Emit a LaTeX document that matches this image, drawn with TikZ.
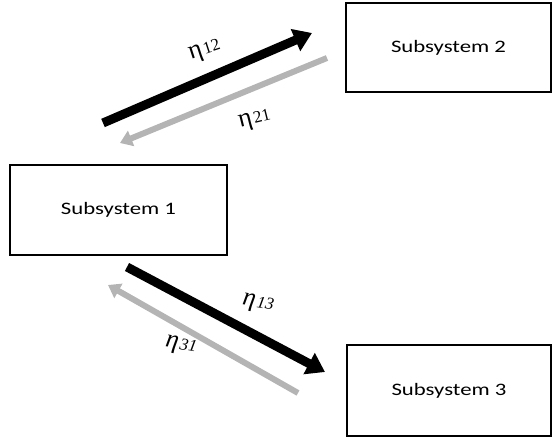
\documentclass[tikz,border=0pt]{standalone}
\usepackage{fontspec}
\setmainfont{Liberation Serif}
\newfontfamily\boxfont{Carlito}
\usetikzlibrary{arrows.meta}
\definecolor{lightarrow}{RGB}{180,180,180}
\tikzset{
  subsys/.style={draw=black, line width=1.4pt, minimum width=#1, inner sep=0pt},
  fwd/.style={line width=9pt, black, -{Triangle[length=18pt, width=23pt]}},
  bwd/.style={line width=6pt, lightarrow, -{Triangle[length=12pt, width=16pt]}},
  etalab/.style={inner sep=0pt}
}
\newcommand{\boxtext}[1]{\scalebox{1.3}[1]{\boxfont\fontsize{17.5}{20}\selectfont #1}}
\newcommand{\etaup}[1]{{\fontsize{26}{28}\selectfont η\kern1.5pt}{\fontsize{17}{18}\selectfont #1}}
\newcommand{\etait}[1]{{\itshape\fontsize{26}{28}\selectfont η\kern1.5pt}{\itshape\fontsize{17}{18}\selectfont #1}}
\begin{document}
\begin{tikzpicture}[x=1pt,y=1pt]
\useasboundingbox (0,0) rectangle (552,441);
% boxes
\node[subsys=217pt, minimum height=90pt] (s1) at (118.5,231) {\boxtext{Subsystem 1}};
\node[subsys=205pt, minimum height=89pt] (s2) at (448.5,393.5) {\boxtext{Subsystem 2}};
\node[subsys=204pt, minimum height=91pt] (s3) at (449,50.5) {\boxtext{Subsystem 3}};
% arrow endpoints
\coordinate (a12s) at (103,318);
\coordinate (a12e) at (312,408);
\coordinate (a21s) at (327,383);
\coordinate (a21e) at (120,298);
\coordinate (a13s) at (127,174);
\coordinate (a13e) at (325,69);
\coordinate (a31s) at (298,48);
\coordinate (a31e) at (108,156);
% arrows
\draw[fwd] (a12s) -- (a12e);
\draw[bwd] (a21s) -- (a21e);
\draw[fwd] (a13s) -- (a13e);
\draw[bwd] (a31s) -- (a31e);
% labels
\node[etalab, rotate=18] (l12) at (205,390) {\etaup{12}};
\node[etalab, rotate=14] (l21) at (255,321) {\etaup{21}};
\node[etalab, rotate=-10] (l13) at (258,137) {\etait{13}};
\node[etalab, rotate=-10] (l31) at (181,95) {\etait{31}};
\end{tikzpicture}
\end{document}
